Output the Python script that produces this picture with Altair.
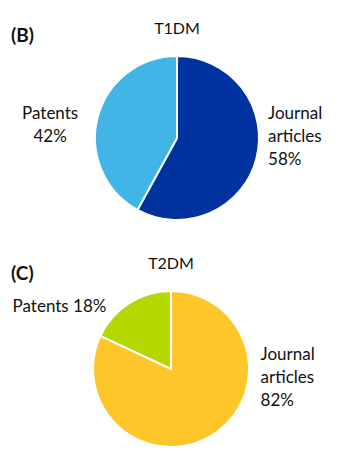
import altair as alt
import pandas as pd

# Data
categories = ["Journal articles", "Patents"]
t1dm_values = [58, 42]
t2dm_values = [82, 18]
t1dm_colors = ["#0033A0", "#41B6E6"]
t2dm_colors = ["#FFC629", "#B5D900"]

FONT = "Lato"
TXT = "#111111"


def make_df(values, colors):
    return pd.DataFrame({
        "category": categories,
        "value": values,
        "col": colors,
        "order": list(range(len(categories))),
    })


def pie_layers(values, colors, title, tag, cx, cy, radius, title_y, tag_y,
               journal_pos, patents_pos, patents_inline):
    df = make_df(values, colors)
    base = alt.Chart(df).encode(
        theta=alt.Theta("value:Q", stack=True),
        order=alt.Order("order:Q"),
    )
    arcs = base.mark_arc(outerRadius=radius, stroke="white", strokeWidth=2).encode(
        color=alt.Color("col:N", scale=None),
        x=alt.value(cx),
        y=alt.value(cy),
    )
    j_r, j_dx, j_dy = journal_pos
    journal = base.transform_calculate(
        lab="datum.category == 'Journal articles' ? ['Journal', 'articles', datum.value + '%'] : ''"
    ).mark_text(
        radius=j_r, align="left", baseline="middle", font=FONT, fontSize=17,
        lineHeight=23, dx=j_dx, dy=j_dy, color=TXT
    ).encode(text="lab:N", x=alt.value(cx), y=alt.value(cy))
    p_r, p_dx, p_dy, p_align = patents_pos
    if patents_inline:
        expr = "datum.category == 'Patents' ? 'Patents ' + datum.value + '%' : ''"
    else:
        expr = "datum.category == 'Patents' ? ['Patents', datum.value + '%'] : ''"
    patents = base.transform_calculate(lab=expr).mark_text(
        radius=p_r, align=p_align, baseline="middle", font=FONT, fontSize=17,
        lineHeight=23, dx=p_dx, dy=p_dy, color=TXT
    ).encode(text="lab:N", x=alt.value(cx), y=alt.value(cy))

    ttl = alt.Chart(pd.DataFrame({"t": [title]})).mark_text(
        font=FONT, fontSize=16, align="center", baseline="middle", color=TXT
    ).encode(text="t:N", x=alt.value(cx), y=alt.value(title_y))
    tg = alt.Chart(pd.DataFrame({"t": [tag]})).mark_text(
        font=FONT, fontSize=19, fontWeight="bold", align="left", baseline="middle", color=TXT
    ).encode(text="t:N", x=alt.value(11), y=alt.value(tag_y))
    return [arcs, journal, patents, ttl, tg]


top = pie_layers(t1dm_values, t1dm_colors, "T1DM", "(B)", 177, 138, 82, 29, 36,
                 (94, 0, -47), (131, 0, 9, "center"), False)
bottom = pie_layers(t2dm_values, t2dm_colors, "T2DM", "(C)", 171, 369, 78, 264, 274,
                    (100, 36, -98), (100, -11, 22, "right"), True)

chart = alt.layer(*top, *bottom).properties(
    width=352, height=464, padding=0, background="white",
    autosize=alt.AutoSizeParams(type="none"),
).configure_view(stroke=None)

chart.save("out.html", embed_options={"renderer": "svg", "actions": False})
